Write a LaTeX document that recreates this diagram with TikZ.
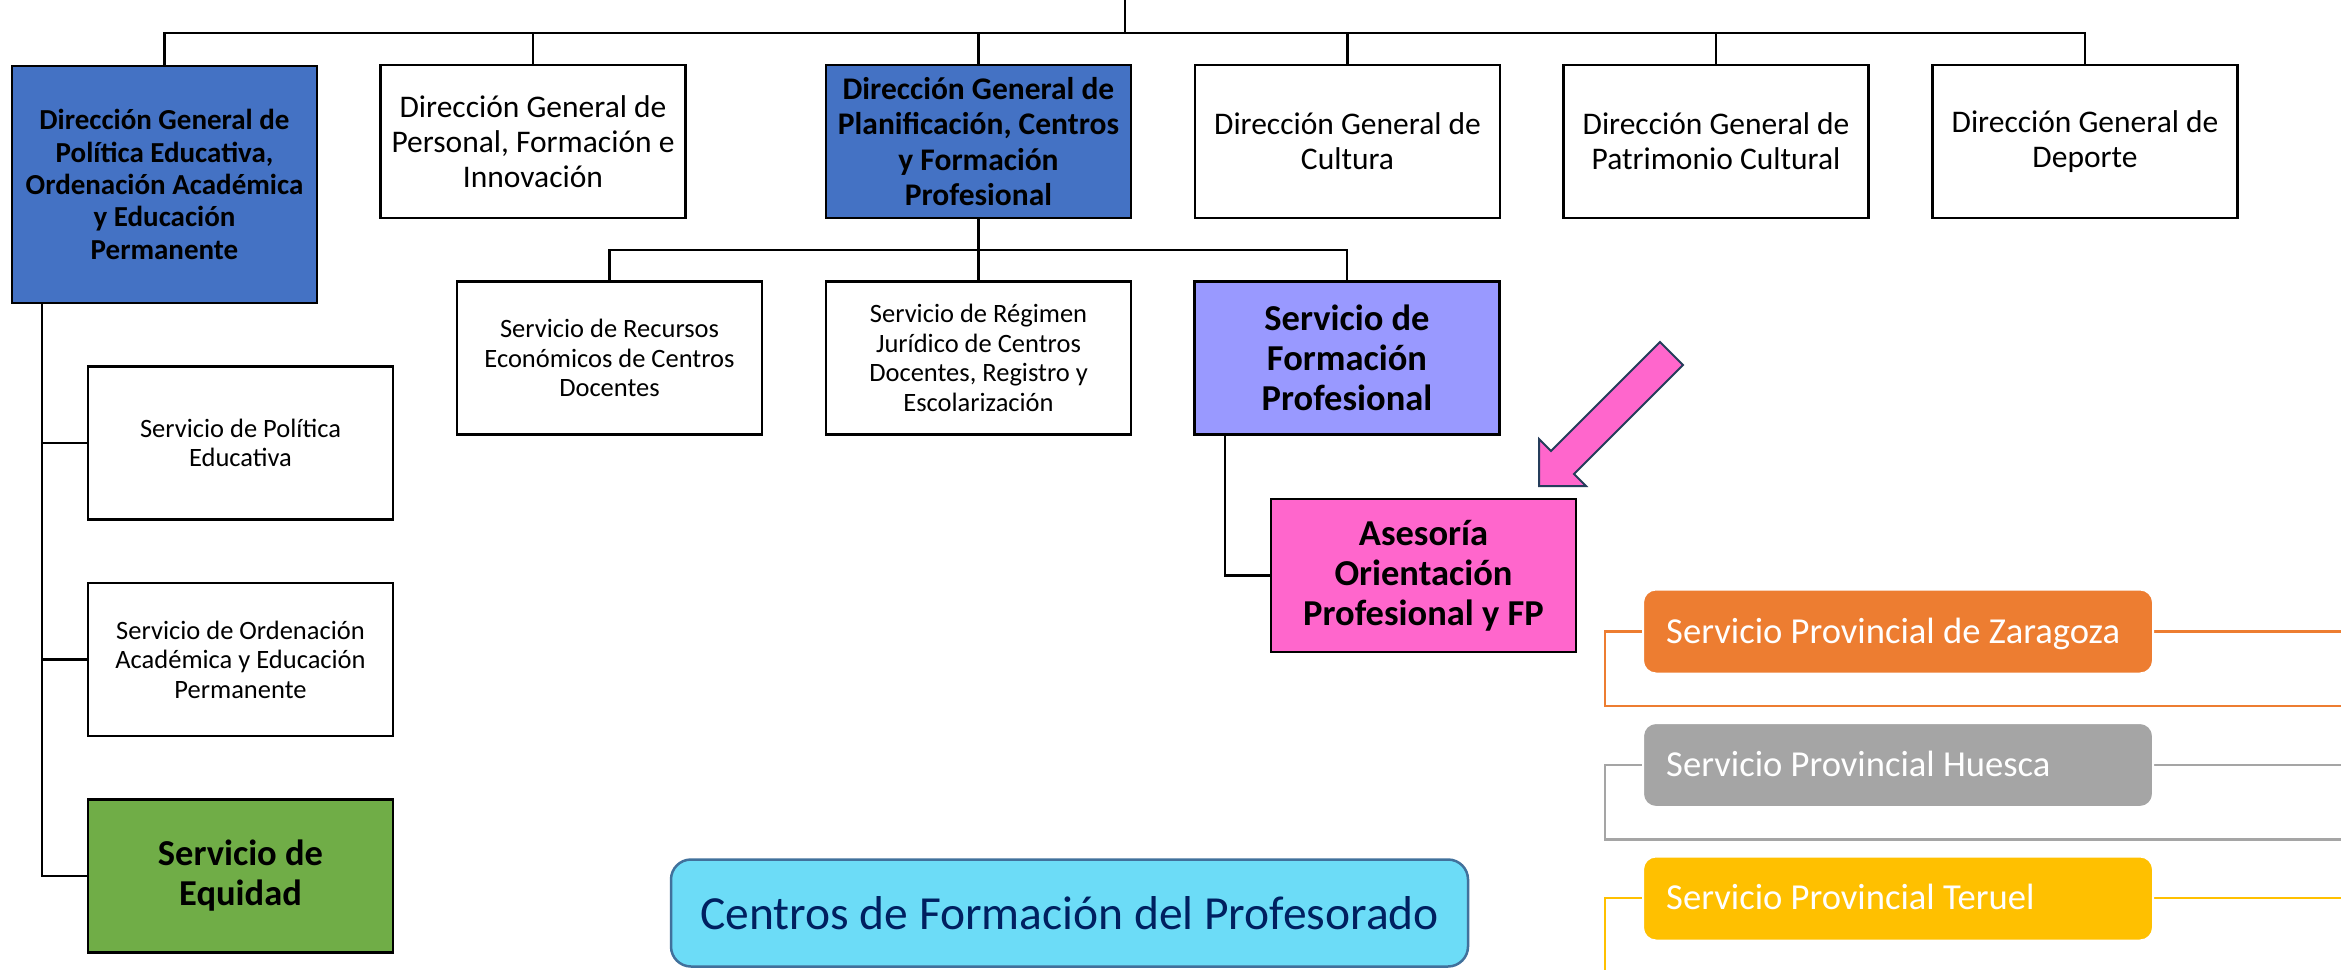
\documentclass[tikz,border=0pt]{standalone}
\usepackage{fontspec}
\setmainfont{Carlito}
\definecolor{dgblue}{HTML}{4472C4}
\definecolor{fppurple}{HTML}{9999FF}
\definecolor{asepink}{HTML}{FF66CC}
\definecolor{equgreen}{HTML}{70AD47}
\definecolor{cenfill}{HTML}{6CDCF7}
\definecolor{cenline}{HTML}{41719C}
\definecolor{centext}{HTML}{002060}
\definecolor{zarC}{HTML}{ED7D31}
\definecolor{hueC}{HTML}{A5A5A5}
\definecolor{terC}{HTML}{FFC000}
\definecolor{arrline}{HTML}{253D5B}
\tikzset{
  orgbox/.style={draw=black, line width=2.5pt, rectangle, inner sep=0pt, align=center,
    minimum width=305pt, minimum height=153pt, text=black},
  dgreg/.style={orgbox, font=\fontsize{31.5}{35.3}\selectfont},
  dgbold/.style={orgbox, fill=dgblue, font=\fontsize{31.5}{35.3}\selectfont\bfseries},
  servreg/.style={orgbox, font=\fontsize{26.5}{29.6}\selectfont},
  servbig/.style={orgbox, font=\fontsize{36.5}{40}\selectfont\bfseries},
  conn/.style={draw=black, line width=2.5pt},
  provbox/.style={rectangle, rounded corners=13pt, draw=white, line width=2pt,
    minimum width=510pt, minimum height=84pt, inner sep=0pt},
  provtext/.style={anchor=base west, inner sep=0pt, text=white,
    font=\fontsize{36.6}{44}\selectfont},
  provline/.style={line width=2.2pt},
  arrowshape/.style={fill=asepink, draw=arrline, line width=2pt, line join=miter}
}
\begin{document}
\begin{tikzpicture}[x=1pt,y=-1pt]
\useasboundingbox (0,0) rectangle (2341,969);
\clip (0,0) rectangle (2341,969);
\fill[white] (0,0) rectangle (2341,969);

% top row
\node[dgbold, minimum height=237pt, font=\fontsize{29}{32.4}\selectfont\bfseries] (DGP) at (164.5,184.5)
  {Dirección General de\\Política Educativa,\\Ordenación Académica\\y Educación\\Permanente};
\node[dgreg] (Pers) at (533,141.5) {Dirección General de\\Personal, Formación e\\Innovación};
\node[dgbold] (Plan) at (978.5,141.5) {Dirección General de\\Planificación, Centros\\y Formación\\Profesional};
\node[dgreg] (Cul) at (1347.5,141.5) {Dirección General de\\Cultura};
\node[dgreg] (Pat) at (1716,141.5) {Dirección General de\\Patrimonio Cultural};
\node[dgreg] (Dep) at (2085,141.5) {Dirección General de\\Deporte};

\coordinate (top) at (1125,0);
\coordinate (bus) at (1125,33);
\draw[conn] (top) -- (bus);
\draw[conn] (DGP.north) |- (bus) -| (Dep.north);
\draw[conn] (Pers.north) -- (Pers.north|-bus);
\draw[conn] (Plan.north) -- (Plan.north|-bus);
\draw[conn] (Cul.north) -- (Cul.north|-bus);
\draw[conn] (Pat.north) -- (Pat.north|-bus);

% second level
\node[servreg] (Rec) at (609.5,358) {Servicio de Recursos\\Económicos de Centros\\Docentes};
\node[servreg] (Reg) at (978.5,358) {Servicio de Régimen\\Jurídico de Centros\\Docentes, Registro y\\Escolarización};
\node[servbig, fill=fppurple] (FP) at (1347,358) {Servicio de\\Formación\\Profesional};
\coordinate (bus2) at (978.5,250);
\draw[conn] (Plan.south) -- (Reg.north);
\draw[conn] (Rec.north) |- (bus2) -| (FP.north);

\node[servbig, fill=asepink] (Ase) at (1423.5,575.5) {Asesoría\\Orientación\\Profesional y FP};
\coordinate (fpb) at (1225,434);
\draw[conn] (fpb) |- (Ase.west);

% left column
\node[servreg] (Pol) at (240.5,443) {Servicio de Política\\Educativa};
\node[servreg] (Ord) at (240.5,659.5) {Servicio de Ordenación\\Académica y Educación\\Permanente};
\node[servbig, fill=equgreen] (Equ) at (240.5,876) {Servicio de\\Equidad};
\coordinate (lv) at (42,303);
\draw[conn] (lv) |- (Equ.west);
\draw[conn] (lv|-Pol.west) -- (Pol.west);
\draw[conn] (lv|-Ord.west) -- (Ord.west);

% Centros
\node[rectangle, rounded corners=20pt, fill=cenfill, draw=cenline, line width=2.5pt,
  minimum width=797pt, minimum height=107pt, inner sep=0pt, text=centext,
  font=\fontsize{47.5}{56}\selectfont] (Cen) at (1069.5,913) {Centros de Formación del Profesorado};

% pink arrow
\draw[arrowshape] (1539,486) -- (1539,439) -- (1551,451) -- (1660,342) -- (1683,365)
  -- (1574,474) -- (1586,486) -- cycle;

% provincial services
\draw[provline, draw=zarC] (2400,631.5) -- (1605,631.5) -- (1605,706) -- (2400,706);
\draw[provline, draw=hueC] (2400,765) -- (1605,765) -- (1605,839.5) -- (2400,839.5);
\draw[provline, draw=terC] (2400,898) -- (1605,898) -- (1605,1000);
\node[provbox, fill=zarC] (Zar) at (1898,631.5) {};
\node[provbox, fill=hueC] (Hue) at (1898,765) {};
\node[provbox, fill=terC] (Ter) at (1898,898.5) {};
\node[provtext] (ZarT) at (1666,643.5) {Servicio Provincial de Zaragoza};
\node[provtext] (HueT) at (1666,776.5) {Servicio Provincial Huesca};
\node[provtext] (TerT) at (1666,909) {Servicio Provincial Teruel};
\end{tikzpicture}
\end{document}
